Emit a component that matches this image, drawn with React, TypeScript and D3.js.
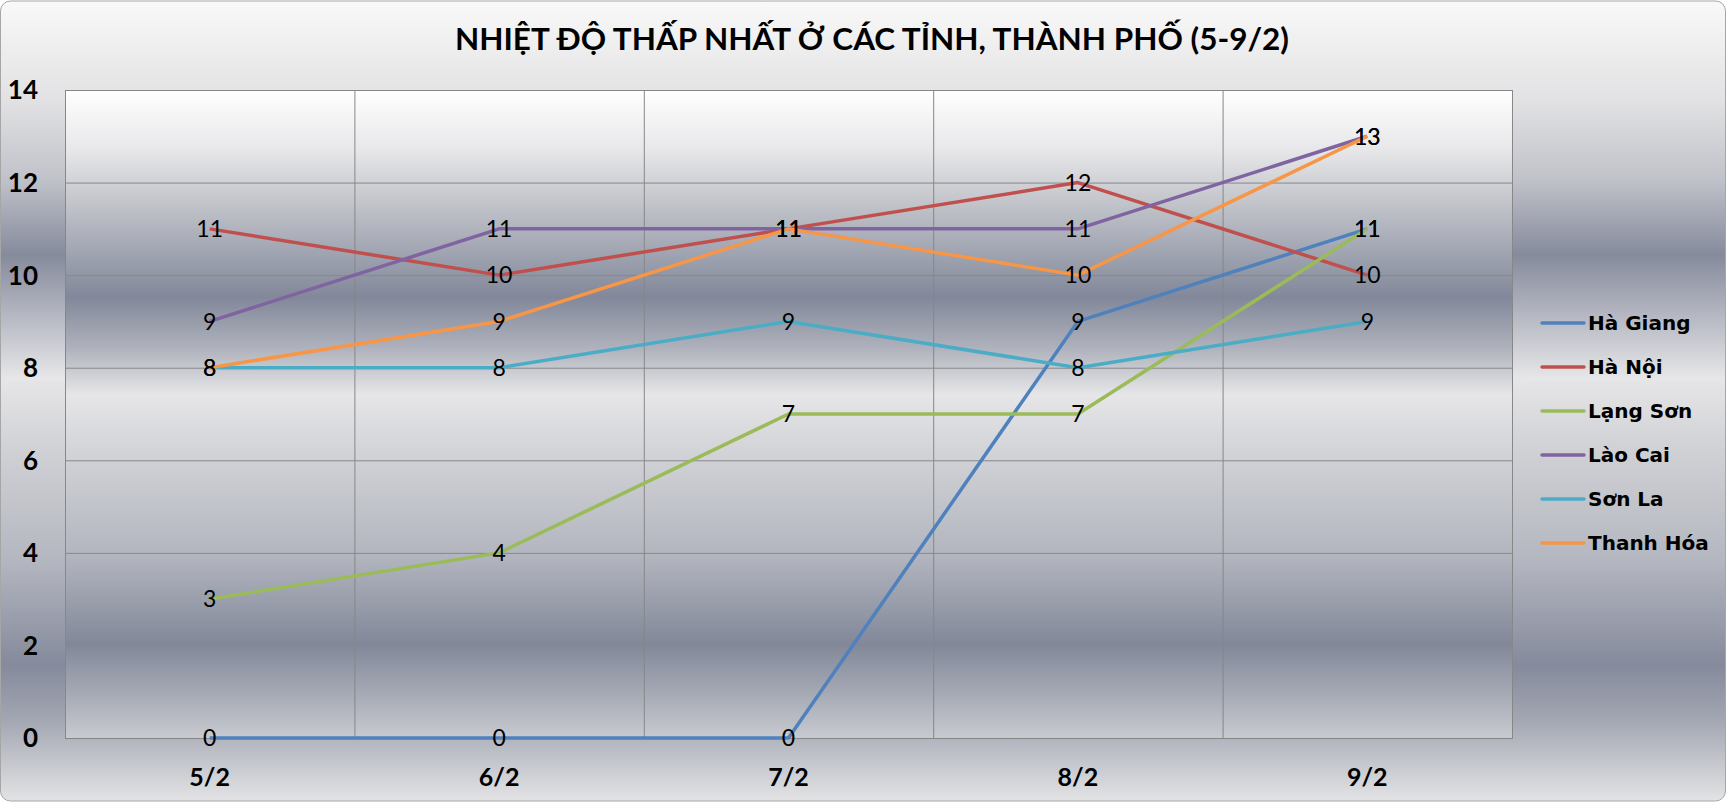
import React, { useEffect } from "react";
import * as d3 from "d3";

// data
const title = "NHIỆT ĐỘ THẤP NHẤT Ở CÁC TỈNH, THÀNH PHỐ (5-9/2)";
const days = ["5/2", "6/2", "7/2", "8/2", "9/2"];
const yTicks = [0, 2, 4, 6, 8, 10, 12, 14];
const haGiang = [0, 0, 0, 9, 11];
const haNoi = [11, 10, 11, 12, 10];
const langSon = [3, 4, 7, 7, 11];
const laoCai = [9, 11, 11, 11, 13];
const sonLa = [8, 8, 9, 8, 9];
const thanhHoa = [8, 9, 11, 10, 13];

const series = [
  { name: "Hà Giang", values: haGiang, color: "#4F81BD" },
  { name: "Hà Nội", values: haNoi, color: "#C0504D" },
  { name: "Lạng Sơn", values: langSon, color: "#9BBB59" },
  { name: "Lào Cai", values: laoCai, color: "#8064A2" },
  { name: "Sơn La", values: sonLa, color: "#4BACC6" },
  { name: "Thanh Hóa", values: thanhHoa, color: "#F79646" },
];

const W = 1727;
const H = 802;
const plot = { left: 65, right: 1512, top: 90, bottom: 738 };

const narrow = "'Liberation Sans Narrow', 'Arial Narrow', Lato, sans-serif";

export default function App() {
  useEffect(() => {
    document.body.style.margin = "0";
  }, []);

  const x = d3.scaleBand<string>().domain(days).range([plot.left, plot.right]);
  const y = d3.scaleLinear().domain([0, 14]).range([plot.bottom, plot.top]);
  const cx = (d: string) => (x(d) ?? 0) + x.bandwidth() / 2;

  const line = d3
    .line<number>()
    .x((_, i) => cx(days[i]))
    .y((v) => y(v));

  const bounds = days.slice(1).map((d) => x(d) ?? 0);

  return (
    <svg width={W} height={H} style={{ display: "block" }}>
      <defs>
        <linearGradient id="bg" gradientUnits="userSpaceOnUse" x1="0" y1="0" x2="0" y2={H}>
          <stop offset={0} stopColor="#f9f9f9" />
          <stop offset={100 / H} stopColor="#e2e2e4" />
          <stop offset={180 / H} stopColor="#c0c2c9" />
          <stop offset={255 / H} stopColor="#868b9c" />
          <stop offset={300 / H} stopColor="#a9acb8" />
          <stop offset={378 / H} stopColor="#e6e6e8" />
          <stop offset={450 / H} stopColor="#d0d1d5" />
          <stop offset={560 / H} stopColor="#b4b7c0" />
          <stop offset={665 / H} stopColor="#858a9c" />
          <stop offset={720 / H} stopColor="#a3a7b2" />
          <stop offset={1} stopColor="#e4e4e6" />
        </linearGradient>
        <linearGradient
          id="plotbg"
          gradientUnits="userSpaceOnUse"
          x1="0"
          y1={plot.top}
          x2="0"
          y2={plot.bottom}
        >
          <stop offset={0} stopColor="#ffffff" />
          <stop offset={0.09} stopColor="#e8e8ea" />
          <stop offset={0.17} stopColor="#c4c6cc" />
          <stop offset={0.32} stopColor="#82889a" />
          <stop offset={0.4} stopColor="#b0b3bd" />
          <stop offset={0.47} stopColor="#e6e6e8" />
          <stop offset={0.57} stopColor="#d0d1d6" />
          <stop offset={0.72} stopColor="#b2b5be" />
          <stop offset={0.855} stopColor="#82889a" />
          <stop offset={0.93} stopColor="#a5a9b4" />
          <stop offset={1} stopColor="#c8cad0" />
        </linearGradient>
      </defs>

      <rect x={0.5} y={1} width={W - 2} height={H - 2} rx={10} fill="url(#bg)" stroke="#a6a6a6" />

      <text
        x={872}
        y={50}
        textAnchor="middle"
        fontFamily={narrow}
        fontWeight="bold"
        fontSize={30}
        textLength={834}
        lengthAdjust="spacingAndGlyphs"
        fill="#000"
      >
        {title}
      </text>

      {/* plot area */}
      <rect
        x={plot.left}
        y={plot.top}
        width={plot.right - plot.left}
        height={plot.bottom - plot.top}
        fill="url(#plotbg)"
      />
      {yTicks.map((t) => (
        <line key={"h" + t} x1={plot.left} x2={plot.right} y1={y(t) + 0.5} y2={y(t) + 0.5} stroke="#878787" strokeWidth={1} />
      ))}
      {bounds.map((b, i) => (
        <line key={"v" + i} x1={b + 0.5} x2={b + 0.5} y1={plot.top} y2={plot.bottom} stroke="#878787" strokeWidth={1} />
      ))}
      <rect
        x={plot.left + 0.5}
        y={plot.top + 0.5}
        width={plot.right - plot.left}
        height={plot.bottom - plot.top}
        fill="none"
        stroke="#878787"
      />

      {/* y axis labels */}
      {yTicks.map((t) => (
        <text
          key={"yl" + t}
          x={38}
          y={y(t)}
          dy="0.36em"
          textAnchor="end"
          fontFamily={narrow}
          fontWeight="bold"
          fontSize={26}
          fill="#000"
        >
          {t}
        </text>
      ))}

      {/* x axis labels */}
      {days.map((d) => (
        <text
          key={"xl" + d}
          x={cx(d)}
          y={786}
          textAnchor="middle"
          fontFamily={narrow}
          fontWeight="bold"
          fontSize={25}
          fill="#000"
        >
          {d}
        </text>
      ))}

      {/* lines */}
      {series.map((s) => (
        <path
          key={s.name}
          d={line(s.values) ?? ""}
          fill="none"
          stroke={s.color}
          strokeWidth={3.5}
          strokeLinejoin="round"
        />
      ))}

      {/* data labels */}
      {series.map((s) =>
        s.values.map((v, i) => (
          <text
            key={s.name + i}
            x={cx(days[i])}
            y={y(v)}
            dy="0.36em"
            textAnchor="middle"
            fontFamily={narrow}
            fontSize={23}
            fill="#000"
          >
            {v}
          </text>
        ))
      )}

      {/* legend */}
      {series.map((s, i) => {
        const ly = 323 + i * 44;
        return (
          <g key={"lg" + s.name}>
            <line x1={1542} x2={1584} y1={ly} y2={ly} stroke={s.color} strokeWidth={3.5} strokeLinecap="round" />
            <text
              x={1588}
              y={ly}
              dy="0.36em"
              fontFamily="'DejaVu Sans', sans-serif"
              fontWeight="bold"
              fontSize={20}
              fill="#000"
            >
              {s.name}
            </text>
          </g>
        );
      })}
    </svg>
  );
}
